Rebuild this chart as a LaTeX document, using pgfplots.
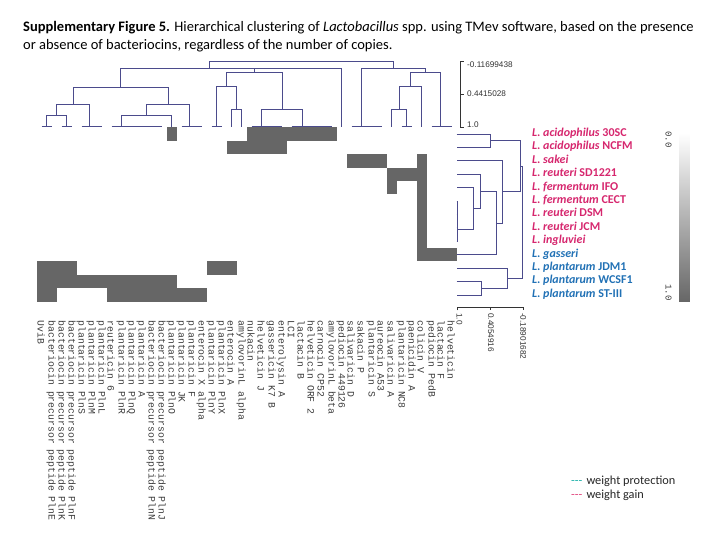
\documentclass[border=0pt]{standalone}
\usepackage{pgfplots}
\pgfplotsset{compat=1.18}
\usepackage{fontspec}
\setmainfont{Carlito}
\newfontfamily\monofont{Liberation Mono}
\newfontfamily\arialfont{Liberation Sans}
\definecolor{dendro}{RGB}{75,75,140}
\definecolor{cellgray}{RGB}{102,102,102}
\definecolor{pinklab}{RGB}{214,39,110}
\definecolor{bluelab}{RGB}{33,113,181}
\definecolor{legteal}{RGB}{32,178,170}
\definecolor{legpink}{RGB}{225,70,125}
\definecolor{labgray}{RGB}{60,60,60}
\newcommand{\pl}[2]{\textcolor{pinklab}{\textit{#1}#2}}
\newcommand{\bl}[2]{\textcolor{bluelab}{\textit{#1}#2}}
\newcommand{\cl}[2]{\node[rotate=-90, anchor=west, inner sep=0pt, text=labgray, font=\monofont\fontsize{9.8bp}{10bp}\selectfont] at (axis cs:#1,320.3) {#2};}
\pgfdeclareplotmark{cell}{\pgfpathrectangle{\pgfpoint{-5.05bp}{-6.75bp}}{\pgfpoint{10.1bp}{13.5bp}}\pgfusepathqfill}
\begin{document}
\begin{tikzpicture}
\useasboundingbox (0,0) rectangle (720bp,540bp);
% ---------- base axis in pixel coordinates ----------
\begin{axis}[at={(360bp,270bp)}, anchor=center, width=720bp, height=540bp, scale only axis,
  xmin=0, xmax=720, ymin=0, ymax=540, y dir=reverse, hide axis, clip=false,
  unbounded coords=jump,
  colormap={cb}{color=(white) color=(cellgray)}, point meta min=0, point meta max=1]
% column dendrogram
\addplot[dendro, line width=0.9bp] coordinates {
(41.7,126.7)(51.7,126.7) (nan,nan)
(61.7,126.7)(71.7,126.7) (nan,nan)
(81.7,126.7)(101.7,126.7) (nan,nan)
(111.7,126.7)(161.7,126.7) (nan,nan)
(181.7,126.7)(201.7,126.7) (nan,nan)
(211.7,126.7)(221.7,126.7) (nan,nan)
(251.7,126.7)(281.7,126.7) (nan,nan)
(291.7,126.7)(331.7,126.7) (nan,nan)
(351.7,126.7)(381.7,126.7) (nan,nan)
(401.7,126.7)(411.7,126.7) (nan,nan)
(431.7,126.7)(451.7,126.7) (nan,nan)
(46.7,126.7)(46.7,115.7)(66.7,115.7)(66.7,126.7) (nan,nan)
(56.7,115.7)(56.7,104.3)(89.3,104.3)(89.3,126.7) (nan,nan)
(121.7,126.7)(121.7,115.7)(171.7,115.7)(171.7,126.7) (nan,nan)
(146.7,115.7)(146.7,104.3)(189.3,104.3)(189.3,126.7) (nan,nan)
(73,104.3)(73,87.7)(168,87.7)(168,104.3) (nan,nan)
(216.7,126.7)(216.7,86.7)(236.7,86.7)(236.7,109) (nan,nan)
(231.7,126.7)(231.7,109)(241.7,109)(241.7,126.7) (nan,nan)
(261.7,126.7)(261.7,109)(302.7,109)(302.7,126.7) (nan,nan)
(226.7,86.7)(226.7,72.3)(282.2,72.3)(282.2,109) (nan,nan)
(254.5,72.3)(254.5,68.8)(341.7,68.8)(341.7,126.7) (nan,nan)
(120.5,87.7)(120.5,68)(298.1,68)(298.1,68.8) (nan,nan)
(391.7,126.7)(391.7,109)(406.7,109)(406.7,126.7) (nan,nan)
(399.2,109)(399.2,86.7)(421.7,86.7)(421.7,126.7) (nan,nan)
(410.5,86.7)(410.5,72.3)(440,72.3)(440,126.7) (nan,nan)
(361.7,126.7)(361.7,68.3)(425.3,68.3)(425.3,72.3) (nan,nan)
(209.3,68)(209.3,61)(393.5,61)(393.5,68.3)
};
% row dendrogram
\addplot[dendro, line width=0.9bp] coordinates {
(456.7,134)(490.7,134)(490.7,147.4)(456.7,147.4) (nan,nan)
(457.7,201.1)(457.7,241.3) (nan,nan)
(456.7,201.1)(457.7,201.1) (nan,nan)
(456.7,214.5)(457.7,214.5) (nan,nan)
(456.7,227.9)(457.7,227.9) (nan,nan)
(456.7,241.3)(457.7,241.3) (nan,nan)
(457.7,229.3)(473.3,229.3)(473.3,187.7)(456.7,187.7) (nan,nan)
(473.3,208.5)(480,208.5)(480,174.2)(456.7,174.2) (nan,nan)
(480,191.3)(496.7,191.3)(496.7,254.7)(456.7,254.7) (nan,nan)
(496.7,223)(502.7,223)(502.7,160.8)(456.7,160.8) (nan,nan)
(490.7,140.7)(520.7,140.7)(520.7,191.9)(502.7,191.9) (nan,nan)
(456.7,281.6)(481.7,281.6)(481.7,295)(456.7,295) (nan,nan)
(481.7,288.3)(507.3,288.3)(507.3,268.2)(456.7,268.2) (nan,nan)
(520.7,166.3)(522.7,166.3)(522.7,278.2)(507.3,278.2)
};
% distance scales
\addplot[black!80, line width=0.6bp] coordinates {
(463.7,61.7)(460.7,61.7)(460.7,127.3)(463.7,127.3) (nan,nan)
(460.7,94.5)(463.7,94.5) (nan,nan)
(457.7,310.3)(457.7,307.3)(523.3,307.3)(523.3,310.3) (nan,nan)
(490.5,307.3)(490.5,310.3)
};
% colour bar
\addplot[surf, shader=interp, mesh/rows=2, mesh/cols=2, point meta=explicit] coordinates {
(679.3,132.7) [0] (689.3,132.7) [0]
(679.3,301.7) [1] (689.3,301.7) [1]
};
% column labels
\cl{41.2}{UviB}
\cl{51.2}{bacteriocin precursor peptide PlnE}
\cl{61.2}{bacteriocin precursor peptide PlnK}
\cl{71.2}{bacteriocin precursor peptide PlnF}
\cl{81.2}{plantaricin PlnS}
\cl{91.2}{plantaricin PlnM}
\cl{101.2}{plantaricin PlnL}
\cl{111.2}{reutericin 6}
\cl{121.2}{plantaricin PlnR}
\cl{131.2}{plantaricin PlnQ}
\cl{141.2}{plantaricin A}
\cl{151.2}{bacteriocin precursor peptide PlnN}
\cl{161.2}{bacteriocin precursor peptide PlnJ}
\cl{171.2}{plantaricin PlnO}
\cl{181.2}{plantaricin JK}
\cl{191.2}{plantaricin F}
\cl{201.2}{enterocin X alpha}
\cl{211.2}{plantaricin PlnY}
\cl{221.2}{plantaricin PlnX}
\cl{231.2}{enterocin A}
\cl{241.2}{amylovorinL alpha}
\cl{251.2}{nukacin}
\cl{261.2}{helveticin J}
\cl{271.2}{gassericin K7 B}
\cl{281.2}{enterolysin A}
\cl{291.2}{LCI}
\cl{301.2}{lactacin B}
\cl{311.2}{helveticin ORF 2}
\cl{321.2}{carnocin CP52}
\cl{331.2}{amylovorinL beta}
\cl{341.2}{pediocin 449126}
\cl{351.2}{salivaricin D}
\cl{361.2}{sakacin P}
\cl{371.2}{plantaricin S}
\cl{381.2}{aureocin A53}
\cl{391.2}{salivaricin A}
\cl{401.2}{plantaricin NC8}
\cl{411.2}{paenicidin A}
\cl{421.2}{colicin V}
\cl{431.2}{pediocin PedB}
\cl{441.2}{lactacin F}
\cl{451.2}{helveticin}
% texts
\node[anchor=base west, inner sep=0pt, font=\fontsize{14.5bp}{17bp}\selectfont] at (axis cs:23,31)
  {\textbf{Supplementary Figure 5.} Hierarchical clustering of \textit{Lactobacillus} spp. using TMev software, based on the presence};
\node[anchor=base west, inner sep=0pt, font=\fontsize{14.5bp}{17bp}\selectfont] at (axis cs:23,49.5)
  {or absence of bacteriocins, regardless of the number of copies.};
\node[anchor=west, inner sep=0pt, text=black!80, font=\arialfont\fontsize{8.2bp}{9bp}\selectfont] at (axis cs:467,65) {-0.11699438};
\node[anchor=west, inner sep=0pt, text=black!80, font=\arialfont\fontsize{8.2bp}{9bp}\selectfont] at (axis cs:467,94) {0.4415028};
\node[anchor=west, inner sep=0pt, text=black!80, font=\arialfont\fontsize{8.2bp}{9bp}\selectfont] at (axis cs:467,125) {1.0};
\node[anchor=west, rotate=-90, inner sep=0pt, text=black!80, font=\arialfont\fontsize{8.2bp}{9bp}\selectfont] at (axis cs:459.5,313) {1.0};
\node[anchor=west, rotate=-90, inner sep=0pt, text=black!80, font=\arialfont\fontsize{8.2bp}{9bp}\selectfont] at (axis cs:491,313) {0.4054916};
\node[anchor=west, rotate=-90, inner sep=0pt, text=black!80, font=\arialfont\fontsize{8.2bp}{9bp}\selectfont] at (axis cs:523.3,313) {-0.18901682};
\node[anchor=west, rotate=-90, inner sep=0pt, text=labgray, font=\monofont\fontsize{9bp}{10bp}\selectfont] at (axis cs:668.5,131) {0.0};
\node[anchor=west, rotate=-90, inner sep=0pt, text=labgray, font=\monofont\fontsize{9bp}{10bp}\selectfont] at (axis cs:668.5,284) {1.0};
\node[anchor=base west, inner sep=0pt, font=\fontsize{12.3bp}{14bp}\selectfont] at (axis cs:571,484)
  {\textcolor{legteal}{-{}-{}-}\hspace{4bp}\textcolor{black!85}{weight protection}};
\node[anchor=base west, inner sep=0pt, font=\fontsize{12.3bp}{14bp}\selectfont] at (axis cs:571,498)
  {\textcolor{legpink}{-{}-{}-}\hspace{4bp}\textcolor{black!85}{weight gain}};
\end{axis}
% ---------- heat map ----------
\begin{axis}[at={(246.7bp,325.5bp)}, anchor=center, x=10bp, y=13.415bp,
  xmin=-0.5, xmax=41.5, ymin=-0.5, ymax=12.5, clip=false,
  axis line style={draw=none}, major tick length=0pt,
  xtick=\empty, ytick={0,...,12}, yticklabel pos=right,
  yticklabel shift=75.3bp,
  yticklabel style={font=\bfseries\fontsize{12bp}{13bp}\selectfont, anchor=mid west, inner sep=0pt},
  yticklabels={\bl{L. plantarum}{ ST-III}, \bl{L. plantarum}{ WCSF1}, \bl{L. plantarum}{ JDM1}, \bl{L. gasseri}{}, \pl{L. ingluviei}{}, \pl{L. reuteri}{ JCM}, \pl{L. reuteri}{ DSM}, \pl{L. fermentum}{ CECT}, \pl{L. fermentum}{ IFO}, \pl{L. reuteri}{ SD1221}, \pl{L. sakei}{}, \pl{L. acidophilus}{ NCFM}, \pl{L. acidophilus}{ 30SC}}]
\addplot[only marks, mark=cell, color=cellgray] coordinates {
(13,12)(21,12)(22,12)(23,12)(24,12)(25,12)(26,12)(27,12)(28,12)(29,12)
(19,11)(20,11)(21,11)(22,11)(23,11)(24,11)
(31,10)(32,10)(33,10)(34,10)(38,10)
(35,9)(36,9)(37,9)(38,9)
(35,8)(38,8)
(38,7)(38,6)(38,5)(38,4)
(38,3)(39,3)(40,3)(41,3)
(0,2)(1,2)(2,2)(3,2)(17,2)(18,2)(19,2)
(0,1)(1,1)(2,1)(3,1)(4,1)(5,1)(6,1)(7,1)(8,1)(9,1)(10,1)(11,1)(12,1)(13,1)
(0,0)(1,0)(7,0)(8,0)(9,0)(10,0)(11,0)(12,0)(13,0)(14,0)(15,0)(16,0)
};
\end{axis}
\end{tikzpicture}
\end{document}
